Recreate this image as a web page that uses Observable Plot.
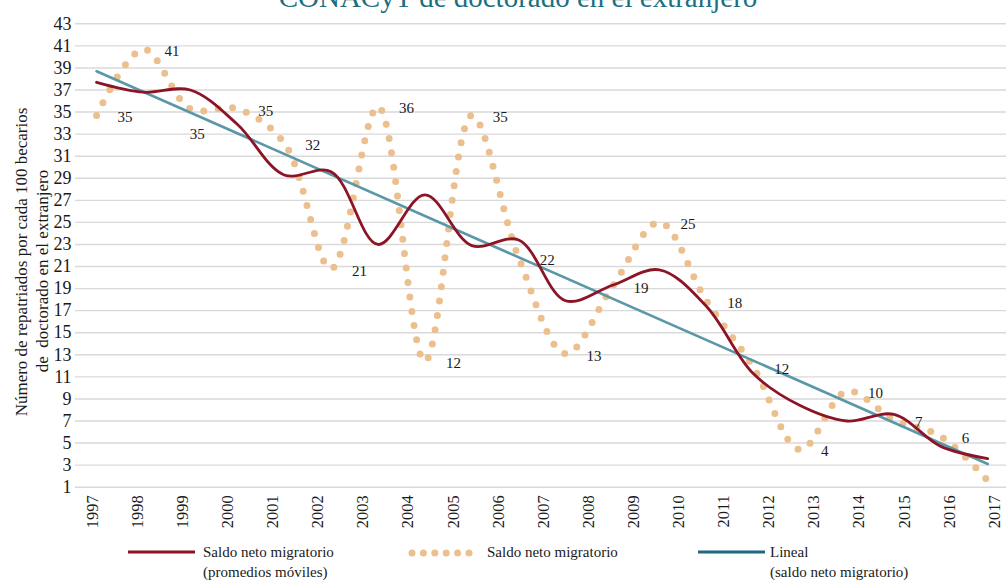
<!DOCTYPE html>
<html>
<head>
<meta charset="utf-8">
<script src="https://cdn.jsdelivr.net/npm/d3@7"></script>
<script src="https://cdn.jsdelivr.net/npm/@observablehq/plot@0.6"></script>
<style>
  body { margin: 0; background: #fff; }
  #wrap { position: relative; width: 1006px; height: 580px; overflow: hidden; font-family: "Liberation Serif", serif; color: #1a1a1a; }
  #title { position: absolute; left: 15px; width: 1006px; top: -17px; text-align: center; font-size: 29px; line-height: 29px; color: #1b6f80; white-space: nowrap; }
  #chart { position: absolute; left: 0; top: 0; }
  .yt { position: absolute; font-size: 17px; line-height: 20px; white-space: pre; transform: translate(-50%, -50%) rotate(-90deg); }
  .leg { position: absolute; font-size: 15px; line-height: 20px; white-space: nowrap; }
  .sw { position: absolute; }
</style>
</head>
<body>
<div id="wrap">
  <div id="title">CONACyT de doctorado en el extranjero</div>
  <div id="chart"></div>
  <div class="yt" style="left:22px; top:262px;">Número de repatriados por cada 100 becarios</div>
  <div class="yt" style="left:43px; top:271px;">de  doctorado en el extranjero</div>

  <svg class="sw" style="left:120px; top:545px;" width="80" height="14"><line x1="8" x2="75" y1="7" y2="7" stroke="#8c1427" stroke-width="3"/></svg>
  <div class="leg" style="left:203px; top:542px;">Saldo neto migratorio<br>(promedios móviles)</div>

  <svg class="sw" style="left:405px; top:546px;" width="75" height="14" id="dotsw"></svg>
  <div class="leg" style="left:487px; top:542px;">Saldo neto migratorio</div>

  <svg class="sw" style="left:690px; top:545px;" width="80" height="14"><line x1="8" x2="75" y1="7" y2="7" stroke="#1f6882" stroke-width="3"/></svg>
  <div class="leg" style="left:770px; top:542px;">Lineal<br>(saldo neto migratorio)</div>
</div>
<script>
// Category ticks (years) and y ticks
const years = [1997, 1998, 1999, 2000, 2001, 2002, 2003, 2004, 2005, 2006, 2007, 2008, 2009, 2010, 2011, 2012, 2013, 2014, 2015, 2016, 2017];
const yTicks = [1, 3, 5, 7, 9, 11, 13, 15, 17, 19, 21, 23, 25, 27, 29, 31, 33, 35, 37, 39, 41, 43];

const pointPos = [1997.09, 1998.13, 1999.17, 2000.21, 2001.25, 2002.29, 2003.33, 2004.37, 2005.41, 2006.45,
                  2007.49, 2008.53, 2009.57, 2010.61, 2011.65, 2012.69, 2013.73, 2014.77, 2015.81, 2016.85];

// Saldo neto migratorio (dotted series)
const saldo = [34.7, 40.7, 35.3, 35.3, 32.2, 20.8, 35.5, 12.4, 34.7, 21.8,
               13.1, 19.2, 25.0, 17.9, 11.9, 4.4, 9.7, 7.1, 5.6, 1.6];

// Data labels shown next to the dotted series
const labels = ["35", "41", "35", "35", "32", "21", "36", "12", "35", "22",
                "13", "19", "25", "18", "12", "4", "10", "7", "6", null];

// Saldo neto migratorio (promedios móviles)
const promedios = [37.7, 36.8, 37.0, 33.9, 29.3, 29.6, 23.0, 27.5, 22.9, 23.4,
                   17.9, 19.3, 20.7, 17.4, 11.3, 8.4, 7.0, 7.6, 4.7, 3.6];

// Lineal (trend line endpoints)
const linealX = [1997.09, 2016.85];
const linealY = [38.7, 3.1];

const rows = pointPos.map((x, i) => ({x, saldo: saldo[i], prom: promedios[i], label: labels[i], i}));
const trend = linealX.map((x, i) => ({x, y: linealY[i]}));

const labelRight = rows.filter(d => d.label != null && d.i !== 2);
const labelBelow = rows.filter(d => d.i === 2);

const tan = "#ecc08e";

const chart = Plot.plot({
  width: 1006,
  height: 540,
  marginTop: 23.3,
  marginBottom: 53.3,
  marginLeft: 75,
  marginRight: 0,
  x: {domain: [1996.623, 2017.266]},
  y: {domain: [1, 43]},
  style: {fontFamily: "Liberation Serif, serif", background: "transparent", color: "#1a1a1a"},
  marks: [
    Plot.ruleY(yTicks, {stroke: "#d9d9d9", strokeWidth: 1.4}),
    Plot.axisY(yTicks, {tickSize: 0, tickPadding: 4, fontSize: 18, label: null, tickFormat: d => String(d)}),
    Plot.axisX(years, {tickSize: 0, tickPadding: 8, tickRotate: -90, fontSize: 16.5, label: null, tickFormat: d => String(d)}),
    Plot.line(rows, {x: "x", y: "saldo", curve: "catmull-rom", stroke: tan, strokeWidth: 7, strokeDasharray: "0 14.5", strokeLinecap: "round"}),
    Plot.line(trend, {x: "x", y: "y", stroke: "#5b98a7", strokeWidth: 2.6}),
    Plot.line(rows, {x: "x", y: "prom", curve: "catmull-rom", stroke: "#8c1427", strokeWidth: 2.8}),
    Plot.text(labelRight, {x: "x", y: "saldo", text: "label", dx: 21, dy: 2, textAnchor: "start", fontSize: 15, fill: "#1a1a1a"}),
    Plot.text(labelBelow, {x: "x", y: "saldo", text: "label", dx: 7, dy: 25, textAnchor: "middle", fontSize: 15, fill: "#1a1a1a"})
  ]
});
document.getElementById("chart").appendChild(chart);

// legend dots
const dsw = d3.select("#dotsw");
dsw.selectAll("circle").data(d3.range(6)).join("circle")
  .attr("cx", k => 7 + k * 11.4).attr("cy", 7).attr("r", 3.5).attr("fill", tan);
</script>
</body>
</html>
